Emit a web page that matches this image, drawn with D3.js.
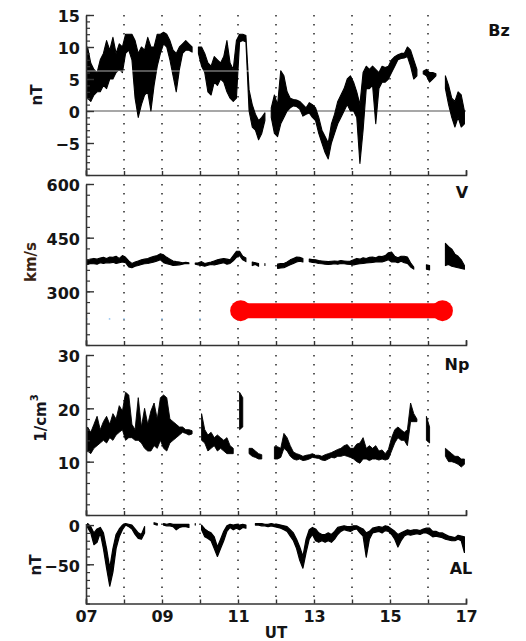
<!DOCTYPE html>
<html><head><meta charset="utf-8">
<script src="https://cdn.jsdelivr.net/npm/d3@7/dist/d3.min.js"></script>
<style>
body{margin:0;background:#fff;}
svg{display:block;}
text{font-family:"DejaVu Sans",Verdana,sans-serif;font-weight:bold;}
</style>
</head><body>
<svg id="chart" width="526" height="641"></svg>
<script>
// ---------- DATA (5-minute bins from 07:00 UT, low/high envelope per bin) ----------
const startHour = 7, binHours = 5 / 60;
const hourLabels = ["07", "09", "11", "13", "15", "17"];
const labelHours = [7, 9, 11, 13, 15, 17];
const gridHours = [8, 9, 10, 11, 12, 13, 14, 15, 16];

const bzTicks = [-5, 0, 5, 10, 15];
const vTicks = [300, 450, 600];
const npTicks = [10, 20, 30];
const alTicks = [-50, 0];

const bzLo = [
  2,1.5,2.5,3,3,4,3.5,5,5,6,6.5,6,
  9,9.5,8,2,-1,1,2.5,3,0,4,7,9,
  10.5,10,8,5.5,3,6.5,9,9.5,9.5,9.2,null,9,
  7,6,3,2.5,4.5,4,5,4.5,3,2,1.5,2,
  10.8,11,10.8,0,-2.5,-3,-4.5,-3.5,-1.5,null,-1,-3.5,
  -4,-2,-1,0,0.5,0.8,0.7,0.3,-0.8,-0.5,-0.3,-1,
  -1.5,-3.5,-5,-6.5,-7.5,-5,-3.5,-2,-1,0,1,0,
  0,-1,-8.2,-3,3.5,3.5,4,-2,3.5,4.5,4.5,5,
  6,7,8,8.2,8.3,8.5,7,5,5.5,null,5.8,5.5,
  4.5,5,5.5,null,null,3.5,1,-1,-2.5,-1,-2.5,-2];
const bzHi = [
  10,7.5,6.5,6,8,9,11,9.5,11.5,9,10.5,10,
  12,12,12,11,9,10,9.5,11.5,10,10,12,12,
  12.3,12,11,9.5,9,10,10.5,11,10.5,10,null,10,
  10,9,7.5,7,8.5,8,7.5,8.5,11,7.5,6.5,11,
  12,12,11.8,3.3,1,-0.5,-1.5,-1,-0.3,null,0.5,2.5,
  1,6.3,5.5,3,2,1.8,1.7,1.5,1,0.5,1.3,1,
  0.5,-1,-3,-4,-5,-2,-0.5,1.5,2.5,3.5,5,5.5,
  4.5,3,1,6,7,6.5,7,6.5,6,7,6.8,7,
  8,8.5,8.8,9,9,10,9.5,8,6.5,null,6.2,6.5,
  6,6,5.8,null,null,5.5,4,2,1.5,3,2.5,0];

const vLo = [
  375,378,377,376,380,378,380,379,381,378,380,382,
  380,368,366,370,372,375,377,378,380,382,385,388,
  380,377,375,372,373,374,376,378,377,null,376,374,
  372,370,373,375,374,376,378,380,376,378,385,395,
  400,388,383,null,372,375,370,null,372,null,null,null,
  364,365,366,370,374,378,382,384,382,null,383,381,
  380,378,377,376,375,376,377,376,378,377,376,375,
  374,376,377,378,379,380,381,382,383,382,385,388,
  382,383,380,384,380,378,368,362,null,null,null,362,
  360,null,null,null,null,372,375,370,368,366,364,362];
const vHi = [
  388,390,392,390,393,395,392,396,395,398,392,400,
  395,385,378,382,385,388,390,392,395,398,400,405,
  402,395,390,385,383,382,380,381,380,null,379,380,
  383,378,380,382,385,388,390,392,390,388,400,412,
  412,398,393,null,382,380,378,null,378,null,null,null,
  376,378,378,382,388,392,396,395,392,null,390,389,
  388,386,385,384,383,384,385,384,386,385,384,385,
  388,392,390,394,392,395,396,394,398,397,400,408,
  410,398,394,398,398,396,380,368,null,null,null,374,
  372,null,null,null,null,434,425,418,404,398,388,372];
const vFaintHours = [7.02, 7.62, 8.0, 9.0, 10.0, 11.0, 12.0, 13.0, 14.0, 15.0, 16.0];
const vFaintValues = [223, 223, 223, 223, 223, 223, 223, 223, 223, 223, 223];
const speedBar = {fromHour: 11.07, toHour: 16.38, value: 246};

const npLo = [
  12,11.5,12.5,13,13.5,14,13.5,14.5,14,15,15.5,16,
  14,14.5,14.5,14,14,13.5,12.5,12,12,13,12.5,14,
  12.5,12,13.5,14,14.5,15,15.5,15.3,15,15.2,null,null,
  14,13.5,12,12.5,13,12,12.5,12,11.5,11.5,11.5,null,
  16,16.5,null,11.5,11,10.8,10.5,10.5,null,null,null,10.5,
  10.5,10.8,12.5,12,11,10.5,10.3,10.5,10.2,10.3,10.5,10.8,
  10.7,10.6,10.3,10.2,10.5,10.8,10.7,11,11,11.2,11,10.8,
  10.5,10,9.7,10.5,10.5,10.2,10.5,10.5,10.3,10.5,10.3,10.5,
  12,13.5,14.5,14,14,13,17.5,17.5,17.5,null,null,14,
  13.5,null,null,null,null,11,10,10,9.8,9.5,9,9.5];
const npHi = [
  16.5,15.5,17,18.5,16,17.5,18.5,17,19,18,20.5,19.5,
  23,22.5,17,16,22,16.5,20,17,19.5,21,18,22,
  22.5,22,18,17.5,17,16.5,16.5,16,16,15.8,null,null,
  19,16,15,15.5,14.5,15,14.5,14,14.5,13,12.5,null,
  23,22,null,12.5,12.5,12,11.5,11.3,null,null,null,12.8,
  12.8,12.5,15.3,14.5,13,11.8,11.5,11.3,11,11.2,11.3,11.5,
  11.2,11.2,11,11.3,11.5,11.7,12,12.3,12.5,13,13.2,12.5,
  12.5,13.3,13.5,14.5,12.5,13,12.5,13,12,12.2,11.5,12.3,
  14.5,16,16.5,16,15.5,16,21,19,18,null,null,18.5,
  16.5,null,null,null,null,12.5,12,11.5,11,11,10.5,10.5];

const alLo = [
  -3,-10,-25,-22,-10,-30,-55,-78,-60,-30,-15,-6,
  0,-2,-5,-12,-17,-18,-10,null,null,1,0,null,
  0,-1,-1,-2,-6,-3,-2,-2,-3,null,0,null,
  -6,-15,-17,-20,-30,-40,-30,-20,-8,-3,-6,-4,
  -6,-3,-4,null,null,0,0,-1,-1,-2,-1,-2,
  -3,-4,-6,-8,-14,-20,-30,-45,-55,-35,-18,-12,
  -20,-22,-20,-22,-20,-22,-18,-12,-8,-6,-7,-8,
  -6,-5,-10,-14,-41,-18,-10,-9,-8,-10,-7,-8,
  -12,-18,-28,-20,-14,-12,-13,-12,-11,-12,-10,-10,
  -12,-15,-14,-15,-16,-18,-19,-20,-20,-18,-20,-35];
const alHi = [
  2,-2,-10,-5,-3,-10,-30,-55,-30,-12,-5,0,
  2,1,0,-5,-10,-12,-2,null,null,3,2,null,
  2,1,2,1,1,1,1,1,1,null,2,null,
  0,-5,-8,-10,-15,-28,-18,-8,-1,1,0,1,
  0,1,0,null,null,2,2,2,1,1,2,1,
  1,0,-1,-2,-6,-10,-18,-28,-40,-18,-6,-3,
  -5,-10,-12,-12,-10,-12,-8,-3,-2,-1,-2,-2,
  -1,-1,-3,-5,-10,-8,-4,-3,-2,-3,-1,-2,
  -5,-8,-12,-10,-8,-6,-7,-6,-6,-7,-5,-4,
  -4,-8,-8,-10,-10,-12,-14,-15,-16,-13,-14,-15];

// ---------- LAYOUT ----------
const svg = d3.select("#chart");
const X0 = 86, X1 = 466;
const x = d3.scaleLinear().domain([7, 17]).range([X0, X1]);

const panels = [
  {name: "Bz", unit: "nT", lo: bzLo, hi: bzHi, domain: [-10, 15], range: [175, 15], ticks: bzTicks, minor: 1,
   width: 1.1, labelPos: [499, 30], unitPos: [37, 95]},
  {name: "V", unit: "km/s", lo: vLo, hi: vHi, domain: [150, 600], range: [345, 184], ticks: vTicks, minor: 30,
   width: 1.1, labelPos: [462, 192], unitPos: [31, 262]},
  {name: "Np", unit: "1/cm", lo: npLo, hi: npHi, domain: [0, 30], range: [515, 355], ticks: npTicks, minor: 2,
   width: 0.9, labelPos: [457, 364], unitPos: [41, 418]},
  {name: "AL", unit: "nT", lo: alLo, hi: alHi, domain: [-100, 2], range: [603.5, 523.5], ticks: alTicks, minor: 10,
   width: 1.2, labelPos: [461, 568], unitPos: [36, 565]}
];

const FONT = "DejaVu Sans, Verdana, sans-serif";

function binRows(lo, hi) {
  return lo.map((l, i) => ({ t: startHour + (i + 0.5) * binHours, lo: l, hi: hi[i] }));
}

panels.forEach(p => {
  const y = d3.scaleLinear().domain(p.domain).range(p.range);
  const g = svg.append("g");
  const top = p.range[1], bottom = p.range[0];

  // dotted hour lines
  g.selectAll("line.grid").data(gridHours).join("line")
    .attr("x1", d => x(d)).attr("x2", d => x(d))
    .attr("y1", top).attr("y2", bottom)
    .attr("stroke", "#333").attr("stroke-width", 1.6)
    .attr("stroke-dasharray", "1.6,7.4");

  if (p.name === "Bz") {
    g.append("line").attr("x1", X0).attr("x2", X1)
      .attr("y1", y(0)).attr("y2", y(0))
      .attr("stroke", "#8a8a8a").attr("stroke-width", 1.6);
  }

  if (p.name === "V") {
    g.selectAll("circle.faint").data(vFaintHours).join("circle")
      .attr("cx", d => x(d)).attr("cy", (d, i) => y(vFaintValues[i]))
      .attr("r", 0.9).attr("fill", "#9cc8f0");
  }

  // data envelope
  const area = d3.area().defined(d => d.lo != null && d.hi != null)
    .x(d => x(d.t)).y0(d => y(d.lo)).y1(d => y(d.hi));
  g.append("path").datum(binRows(p.lo, p.hi))
    .attr("d", area).attr("fill", "#000")
    .attr("stroke", "#000").attr("stroke-width", p.width)
    .attr("stroke-linejoin", "round");

  if (p.name === "Bz") {
    g.append("line").attr("x1", X0 + 1).attr("x2", x(11.8))
      .attr("y1", 71).attr("y2", 71)
      .attr("stroke", "#fff").attr("stroke-width", 0.8).attr("opacity", 0.85);
  }

  if (p.name === "V") {
    g.append("line")
      .attr("x1", x(speedBar.fromHour)).attr("x2", x(speedBar.toHour))
      .attr("y1", y(speedBar.value)).attr("y2", y(speedBar.value))
      .attr("stroke", "#ff0000").attr("stroke-width", 15);
    g.selectAll("circle.end").data([speedBar.fromHour, speedBar.toHour]).join("circle")
      .attr("cx", d => x(d)).attr("cy", y(speedBar.value)).attr("r", 10.5)
      .attr("fill", "#ff0000");
  }

  // left axis: minor ticks
  const minors = d3.range(p.domain[0], p.domain[1] + 1e-9, p.minor);
  const minorAxis = d3.axisLeft(y).tickValues(minors).tickSize(-4).tickSizeOuter(0).tickFormat("");
  const ma = g.append("g").attr("transform", `translate(${X0},0)`).call(minorAxis);
  ma.select(".domain").attr("stroke", "#333").attr("stroke-width", 1.6);
  ma.selectAll(".tick line").attr("stroke", "#333").attr("stroke-width", 1.2);

  const majorAxis = d3.axisLeft(y).tickValues(p.ticks).tickSize(-8).tickSizeOuter(0).tickPadding(6);
  const mj = g.append("g").attr("transform", `translate(${X0},0)`).call(majorAxis);
  mj.select(".domain").remove();
  mj.selectAll(".tick line").attr("stroke", "#333").attr("stroke-width", 1.4);
  mj.selectAll(".tick text").attr("font-family", FONT).attr("font-weight", "bold")
    .attr("font-size", 16).attr("fill", "#151515").attr("dy", "0.42em");

  // bottom axis of the panel
  const bAxis = d3.axisBottom(x).tickValues(d3.range(7, 17.5, 1)).tickSize(-4).tickSizeOuter(-5).tickFormat("");
  const ba = g.append("g").attr("transform", `translate(0,${bottom})`).call(bAxis);
  ba.select(".domain").attr("stroke", "#333").attr("stroke-width", 1.6);
  ba.selectAll(".tick line").attr("stroke", "#333").attr("stroke-width", 1.4);

  // panel label
  g.append("text").attr("x", p.labelPos[0]).attr("y", p.labelPos[1])
    .attr("text-anchor", "middle").attr("dominant-baseline", "central")
    .attr("font-family", FONT).attr("font-size", 16).attr("fill", "#111").text(p.name);

  // unit label
  const ut = g.append("text")
    .attr("transform", `translate(${p.unitPos[0]},${p.unitPos[1]}) rotate(-90)`)
    .attr("text-anchor", "middle").attr("dominant-baseline", "central")
    .attr("font-family", FONT).attr("font-size", 15)
    .attr("fill", p.name === "V" ? "#3a2412" : "#151520");
  if (p.name === "Np") {
    ut.append("tspan").text("1/cm");
    ut.append("tspan").attr("dy", -7).attr("font-size", 10).text("3");
  } else {
    ut.text(p.unit);
  }
});

// x-axis labels (bottom panel)
const xl = d3.axisBottom(x).tickValues(labelHours).tickSize(0)
  .tickFormat((d, i) => hourLabels[i]).tickPadding(7);
const xg = svg.append("g").attr("transform", "translate(0,603.5)").call(xl);
xg.select(".domain").remove();
xg.selectAll(".tick text").attr("font-family", FONT).attr("font-weight", "bold")
  .attr("font-size", 16).attr("fill", "#151515");

svg.append("text").attr("x", x(12)).attr("y", 633)
  .attr("text-anchor", "middle").attr("dominant-baseline", "central")
  .attr("font-family", FONT).attr("font-size", 15).attr("fill", "#151515").text("UT");
</script>
</body></html>
